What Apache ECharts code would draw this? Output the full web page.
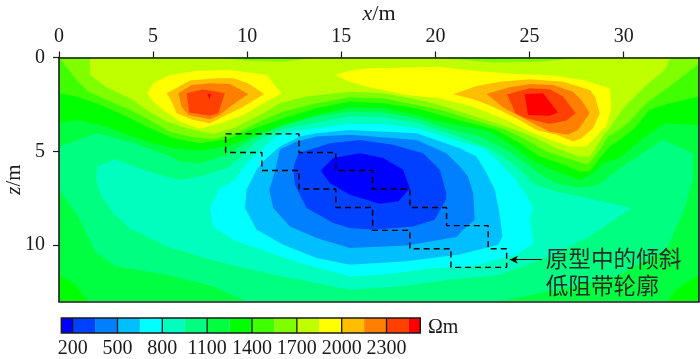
<!DOCTYPE html>
<html>
<head>
<meta charset="utf-8">
<style>html,body{margin:0;padding:0;background:#fff}#c{width:700px;height:359px}</style>
<script src="https://cdn.jsdelivr.net/npm/echarts@6/dist/echarts.min.js"></script>
</head>
<body>
<div id="c"></div>
<script>
// ---- axis ticks ----
const xTicks = [0, 5, 10, 15, 20, 25, 30];
const zTicks = [0, 5, 10];
const cbTicks = [200, 500, 800, 1100, 1400, 1700, 2000, 2300];
const cbEdges = [124, 200, 350, 500, 650, 800, 950, 1100, 1250, 1400, 1550, 1700, 1850, 2000, 2150, 2300, 2450, 2526];
const cbColors = ['#0000ff','#0040ff','#0080ff','#00bfff','#00ffff','#00ffbf','#00ff80','#00ff40','#00ff00','#40ff00','#80ff00','#bfff00','#ffff00','#ffbf00','#ff8000','#ff4000','#ff0000'];

// ---- contour bands, as [x (m), z (m)] outlines ----
const whole = [[0,0],[34,0],[34,13],[0,13]];
const band950 = [[0,4.74],[2,4.03],[3.95,4.56],[5.72,5.19],[6.42,5.54],[7.49,5.63],[8.9,5.19],[10.32,4.3],[12.09,3.54],[13.68,3.15],[15.45,2.88],[17.22,2.93],[19,3.24],[20.23,3.68],[22.35,4.21],[23.77,4.92],[24.66,5.54],[25.72,6.34],[26.43,6.69],[27.49,6.91],[28.37,6.87],[28.9,6.6],[29.79,5.9],[30.85,5.19],[32.09,4.39],[33.68,5.1],[33.68,6.51],[33.15,8.29],[32.88,8.82],[32.27,10.24],[29.61,11.66],[26.96,12.28],[23.24,13],[9.96,13],[8.19,12.19],[5.72,11.57],[3.06,11.13],[1.91,10.33],[1.03,8.47],[0,7.05]];
const band800 = [[2,5.81],[2.97,5.42],[4.48,5.98],[5.63,6.34],[6.42,6.52],[7.49,6.34],[8.9,5.9],[9.61,5.36],[10.5,4.48],[11.73,3.86],[13.68,3.47],[15.45,3.15],[17.22,3.18],[19,3.47],[20.41,3.94],[21.65,4.39],[23.06,4.92],[24.3,5.81],[25.27,6.78],[26.43,7.14],[28.02,7.49],[30.41,8.02],[28.19,9.53],[26.07,10.59],[23.42,11.57],[20.76,11.84],[18.1,12.19],[15.45,12.37],[13.68,12.01],[11.03,11.48],[8.37,10.86],[5.72,10.06],[3.77,9.09],[2.88,8.29],[2.18,7.22],[2,6.52]];
const band650 = [[8.02,8.02],[8.55,6.96],[9.35,6.52],[9.96,5.63],[10.85,4.83],[11.56,4.21],[12.27,3.95],[13.68,3.77],[15.45,3.54],[17.22,3.54],[19,3.77],[21.29,4.48],[22.53,4.83],[23.24,5.45],[24.12,6.34],[24.65,7.05],[25.19,8.02],[25.01,8.64],[25.22,9.88],[24.3,10.5],[21.82,11.13],[19.88,11.21],[17.22,11.57],[15.45,11.66],[12.8,10.95],[11.03,10.33],[9.26,9.71],[8.19,9]];
const band500 = [[9.88,8.02],[9.96,7.05],[10.5,5.98],[10.85,5.54],[11.73,4.74],[12.8,4.21],[13.68,4.03],[15.45,3.86],[19,4.03],[21.29,4.83],[22.18,5.27],[22.71,6.16],[23.15,7.05],[23.33,7.93],[23.45,8.64],[23.56,9.53],[23.33,9.97],[21.29,10.5],[18.46,10.86],[15.45,11.04],[13.68,10.68],[11.91,9.97],[10.5,9.18]];
const band350 = [[11.17,7.05],[11.47,6.07],[11.73,4.92],[12.62,4.48],[13.68,4.21],[15.45,4.12],[19,4.39],[20.58,5.1],[21.29,5.81],[21.73,6.34],[22,7.23],[22.09,8.64],[21.47,9.18],[21.12,9.57],[18.46,10.01],[15.45,10.15],[13.68,9.62],[12.27,9],[11.38,8.02]];
const band200 = [[12.44,5.98],[12.53,5.63],[12.71,5.1],[14.39,4.57],[15.98,4.39],[17.75,4.65],[19.35,5.1],[20.23,5.98],[20.58,7.23],[20.55,7.58],[19.96,8.64],[18.81,9],[16.69,9.18],[15.45,9.09],[14.57,8.82],[13.15,8.02],[12.53,6.78]];
const band124 = [[13.91,6.02],[14.57,5.36],[15.98,5.1],[17.22,5.36],[18.28,5.98],[18.64,6.96],[18.02,7.67],[17.04,7.79],[15.45,7.31],[14.39,6.69]];

const band1250Top = [[0,3.5],[0.94,3.33],[2.18,3.59],[3.42,4.03],[4.65,4.48],[6.07,4.83],[7.49,4.96],[8.9,4.74],[10.67,4.03],[11.91,3.59],[13.68,3.06],[15.45,2.65],[17.22,2.71],[19,3.06],[20.23,3.41],[22.88,3.94],[24.3,4.83],[25.36,5.63],[26.43,6.07],[27.66,6.52],[28.37,6.16],[28.9,5.63],[29.79,5.36],[31.03,4.3],[32.18,3.5],[34,3.59],[34,0],[0,0]];
const band1250Left = [[0,11.57],[0.85,12.1],[1.56,13],[0,13]];
const band1250Right = [[32.27,13],[32.88,12.28],[34,11.57],[34,13]];
const band1400 = [[0,1.91],[0.94,2.08],[2.18,2.52],[3.42,3.06],[4.65,3.68],[6.07,4.3],[7.49,4.57],[8.9,4.35],[10.67,3.68],[11.91,3.24],[13.68,2.71],[15.45,2.35],[17.22,2.44],[19,2.71],[20.23,3.06],[23.24,3.86],[24.48,4.57],[25.54,5.27],[26.6,5.63],[27.66,6.07],[28.19,6.07],[28.73,5.36],[29.26,4.74],[29.79,4.39],[30.58,3.77],[31.38,2.79],[32.44,2.44],[34,2.08],[34,0],[0,0]];
const band1550 = [[0,0],[0.94,1.2],[1.56,1.82],[2.53,2.26],[3.6,2.7],[4.65,3.24],[5.89,3.95],[7.13,4.25],[8.19,4.35],[9.61,3.95],[10.67,3.41],[11.91,2.88],[13.68,2.44],[15.45,2.12],[17.22,2.17],[19,2.53],[20.23,2.79],[23.77,3.86],[24.83,4.39],[25.89,5],[26.96,5.36],[28.1,5.72],[28.73,4.92],[29.17,4.21],[29.61,3.95],[30.32,3.41],[31.2,2.44],[32.44,1.55],[34,0.33],[34,0]];
const band1700 = [[1.62,0],[1.66,0.93],[2.53,1.59],[3.95,2.26],[4.65,2.79],[5.72,3.41],[6.78,3.77],[8.19,4.07],[9.26,3.77],[10.67,3.06],[11.73,2.44],[13.15,2.08],[15.45,1.82],[17.22,1.91],[19,2.23],[20.23,2.53],[24.3,3.86],[25.36,4.3],[26.43,4.83],[27.66,5.27],[28.19,5.27],[28.55,4.74],[29,4.03],[29.17,3.86],[30.05,2.62],[31.12,1.55],[32.18,0.66],[32.48,0],[27.84,0],[25.54,0.22],[23.06,0.26],[20,0],[13.68,0],[11.91,0.22],[10.14,0.17],[8.19,0]];
const band1850Left = [[4.69,1.91],[5.01,1.37],[5.89,0.93],[7.31,0.7],[9.08,0.66],[11.03,0.93],[11.82,1.91],[10.85,2.44],[9.81,3.06],[8.55,3.5],[7.49,3.8],[6.42,3.41],[5.54,2.79],[5.01,2.35]];
const band1850Right = [[14.65,0.93],[15.45,0.7],[16.33,0.58],[20.02,0.49],[22.53,0.75],[24.3,0.88],[26.07,0.93],[27.84,1.2],[29.25,1.64],[29.35,2.62],[29.08,3.68],[28.82,3.86],[28.55,4.21],[28.02,4.74],[27.13,4.74],[25.89,4.3],[24.83,3.86],[23.77,3.33],[22,2.62],[20.23,2.17],[18.46,2],[16.33,1.55],[15.45,1.29]];
const band2000Left = [[5.72,1.91],[6.96,1.23],[8.37,1.11],[9.26,1.11],[10.05,1.37],[10.9,1.94],[9.79,2.62],[8.9,3.06],[8.02,3.5],[7.13,3.33],[6.25,2.97],[5.98,2.35]];
const band2000Right = [[20.94,1.96],[22.18,1.52],[23.42,1.29],[25.01,1.16],[26.78,1.29],[28.2,1.73],[28.47,2.08],[28.73,2.97],[28.37,3.77],[27.75,4.3],[27.31,4.48],[26.43,4.12],[25.36,3.86],[24.48,3.33],[23.05,2.62],[22,2.23]];
const band2150Left = [[6.34,1.91],[7.04,1.46],[8.02,1.37],[9.08,1.41],[10.05,1.94],[9.08,2.62],[8.55,3.06],[8.02,3.29],[6.87,3.06],[6.51,2.62]];
const band2150Right = [[22.71,1.94],[23.95,1.59],[25.01,1.41],[26.25,1.46],[27.31,1.82],[27.75,2.26],[28.19,2.97],[27.57,3.86],[27.04,4.12],[26.07,3.95],[24.48,3.15],[23.59,2.65]];
const band2300Left = [[6.78,1.91],[7.66,1.69],[8.81,1.91],[8.46,2.97],[8.02,3.11],[6.92,2.93]];
const band2300Right = [[23.8,1.96],[25.01,1.64],[26.07,1.69],[26.78,2.08],[27.45,2.97],[26.96,3.36],[26.07,3.54],[24.83,3.24],[24.25,2.97]];
const band2450Left = [[7.88,1.94],[8.09,1.94],[7.98,2.21]];
const band2450Right = [[24.74,1.96],[25.72,1.91],[26.51,2.93],[26.07,3.11],[24.92,3.06]];

// ---- dashed outline of the tilted low-resistivity band in the model ----
const modelOutline = [[8.85,4.07],[12.75,4.07],[12.75,5.06],[14.71,5.06],[14.71,6.02],[16.66,6.02],[16.66,7.01],[18.64,7.01],[18.64,7.99],[20.59,7.99],[20.59,8.96],[22.8,8.96],[22.8,10.19],[23.78,10.19],[23.78,11.18],[20.82,11.18],[20.82,10.19],[18.64,10.19],[18.64,9.21],[16.66,9.21],[16.66,7.99],[14.71,7.99],[14.71,7.01],[12.75,7.01],[12.75,6.02],[10.78,6.02],[10.78,5.06],[8.85,5.06],[8.85,4.07]];
const arrowTail = [25.65, 10.77];
const arrowHead = [23.95, 10.77];
const noteLines = [{x: 25.86, z: 10.72, text: '原型中的倾斜'}, {x: 25.86, z: 12.15, text: '低阻带轮廓'}];

// painter's order: each entry is [colour, outline]
const layers = [
  ['#00ff40', whole], ['#00ff80', band950], ['#00ffbf', band800], ['#00ffff', band650],
  ['#00bfff', band500], ['#0080ff', band350], ['#0040ff', band200], ['#0000ff', band124],
  ['#00ff00', band1250Top], ['#00ff00', band1250Left], ['#00ff00', band1250Right],
  ['#40ff00', band1400], ['#80ff00', band1550], ['#bfff00', band1700],
  ['#ffff00', band1850Left], ['#ffff00', band1850Right],
  ['#ffbf00', band2000Left], ['#ffbf00', band2000Right],
  ['#ff8000', band2150Left], ['#ff8000', band2150Right],
  ['#ff4000', band2300Left], ['#ff4000', band2300Right],
  ['#ff0000', band2450Left], ['#ff0000', band2450Right]
];

const serif = '"Liberation Serif","Times New Roman",serif';
const ink = '#1a1a1a';
const chart = echarts.init(document.getElementById('c'), null, {renderer: 'canvas'});

const line = {show: true, onZero: false, lineStyle: {color: ink, width: 1.6}};
const hidden = {show: false};

chart.setOption({
  animation: false,
  backgroundColor: '#fff',
  grid: [
    {left: 59, top: 57.5, width: 640, height: 244, outerBoundsMode: 'none'},
    {left: 61.3, top: 318, width: 359, height: 15, outerBoundsMode: 'none'}
  ],
  xAxis: [
    {gridIndex: 0, type: 'value', position: 'top', min: 0, max: 34, z: 5, axisLine: line,
      axisTick: {show: true, length: 6, customValues: xTicks, lineStyle: {color: ink, width: 1.2}},
      axisLabel: {customValues: xTicks, margin: 11, fontFamily: serif, fontSize: 20, color: ink},
      splitLine: hidden,
      name: '{i|x}{n|/m}', nameLocation: 'middle', nameGap: 32.5, nameMoveOverlap: false,
      nameTextStyle: {rich: {i: {fontFamily: serif, fontSize: 22, fontStyle: 'italic', color: ink}, n: {fontFamily: serif, fontSize: 22, color: ink}}}},
    {gridIndex: 0, type: 'value', position: 'bottom', min: 0, max: 34, z: 5, axisLine: line,
      axisTick: hidden, axisLabel: hidden, splitLine: hidden},
    {gridIndex: 1, type: 'value', position: 'bottom', min: cbEdges[0], max: cbEdges[cbEdges.length - 1],
      axisLine: hidden, axisTick: hidden, splitLine: hidden,
      axisLabel: {customValues: cbTicks, margin: 6, fontFamily: serif, fontSize: 20, color: ink, formatter: v => String(v)}}
  ],
  yAxis: [
    {gridIndex: 0, type: 'value', position: 'left', inverse: true, min: 0, max: 13, z: 5, axisLine: line,
      axisTick: {show: true, length: 6, customValues: zTicks, lineStyle: {color: ink, width: 1.2}},
      axisLabel: {customValues: zTicks, margin: 14, padding: [4, 0, 0, 0], fontFamily: serif, fontSize: 20, color: ink},
      splitLine: hidden,
      name: '{i|z}{n|/m}', nameLocation: 'middle', nameGap: 34.5, nameMoveOverlap: false,
      nameTextStyle: {rich: {i: {fontFamily: serif, fontSize: 21, fontStyle: 'italic', color: ink}, n: {fontFamily: serif, fontSize: 21, color: ink}}}},
    {gridIndex: 0, type: 'value', position: 'right', inverse: true, min: 0, max: 13, z: 5, axisLine: line,
      axisTick: hidden, axisLabel: hidden, splitLine: hidden},
    {gridIndex: 1, type: 'value', min: 0, max: 1, show: false}
  ],
  series: [
    {
      type: 'custom', xAxisIndex: 0, yAxisIndex: 0, clip: true, z: 2, silent: true,
      encode: {x: 0, y: 1},
      data: layers.map((l, i) => [l[1][0][0], l[1][0][1], i]),
      renderItem: (params, api) => {
        const l = layers[api.value(2)];
        return {type: 'polygon', shape: {points: l[1].map(p => api.coord(p))}, style: {fill: l[0]}};
      }
    },
    {
      type: 'line', xAxisIndex: 0, yAxisIndex: 0, z: 3, silent: true, showSymbol: false, symbol: 'none',
      data: modelOutline,
      lineStyle: {color: '#000', width: 1.4, type: [6, 4]},
      markLine: {
        silent: true, symbol: ['none', 'arrow'], symbolSize: [6, 8], label: {show: false},
        lineStyle: {color: '#000', width: 1.2, type: 'solid'},
        data: [[{coord: arrowTail}, {coord: arrowHead}]]
      }
    },
    {
      type: 'custom', xAxisIndex: 0, yAxisIndex: 0, z: 4, silent: true, clip: false,
      encode: {x: 0, y: 1},
      data: noteLines.map((n, i) => [n.x, n.z, i]),
      renderItem: (params, api) => {
        const c = api.coord([api.value(0), api.value(1)]);
        return {type: 'text', x: c[0], y: c[1], style: {
          text: noteLines[api.value(2)].text, fill: '#2a2a2a', fontSize: 22.6,
          fontFamily: '"Noto Sans CJK SC"', textAlign: 'left', textVerticalAlign: 'middle'}};
      }
    },
    {
      type: 'custom', xAxisIndex: 2, yAxisIndex: 2, z: 2, silent: true, clip: false,
      encode: {x: 0},
      data: cbColors.map((c, i) => [cbEdges[i], i]),
      renderItem: (params, api) => {
        const i = api.value(1);
        const a = api.coord([cbEdges[i], 1]);
        const b = api.coord([cbEdges[i + 1], 0]);
        return {type: 'rect', shape: {x: a[0], y: a[1], width: b[0] - a[0], height: b[1] - a[1]}, style: {fill: cbColors[i]}};
      }
    },
    {
      type: 'custom', xAxisIndex: 2, yAxisIndex: 2, z: 3, silent: true, clip: false,
      encode: {x: 0},
      data: cbTicks.map(v => [v]),
      renderItem: (params, api) => {
        const a = api.coord([api.value(0), 1]);
        const b = api.coord([api.value(0), 0]);
        return {type: 'line', shape: {x1: a[0], y1: a[1], x2: b[0], y2: b[1]}, style: {stroke: ink, lineWidth: 1.3}};
      }
    },
    {
      type: 'custom', xAxisIndex: 2, yAxisIndex: 2, z: 4, silent: true, clip: false,
      encode: {x: 0},
      data: [[cbEdges[0]]],
      renderItem: (params, api) => {
        const a = api.coord([cbEdges[0], 1]);
        const b = api.coord([cbEdges[cbEdges.length - 1], 0]);
        return {type: 'rect', shape: {x: a[0], y: a[1], width: b[0] - a[0], height: b[1] - a[1]}, style: {fill: 'none', stroke: ink, lineWidth: 1.4}};
      }
    }
  ],
  graphic: [{
    type: 'text', left: 428, top: 318, silent: true,
    style: {text: 'Ωm', fontFamily: serif, fontSize: 20, fill: ink}
  }]
});
</script>
</body>
</html>
